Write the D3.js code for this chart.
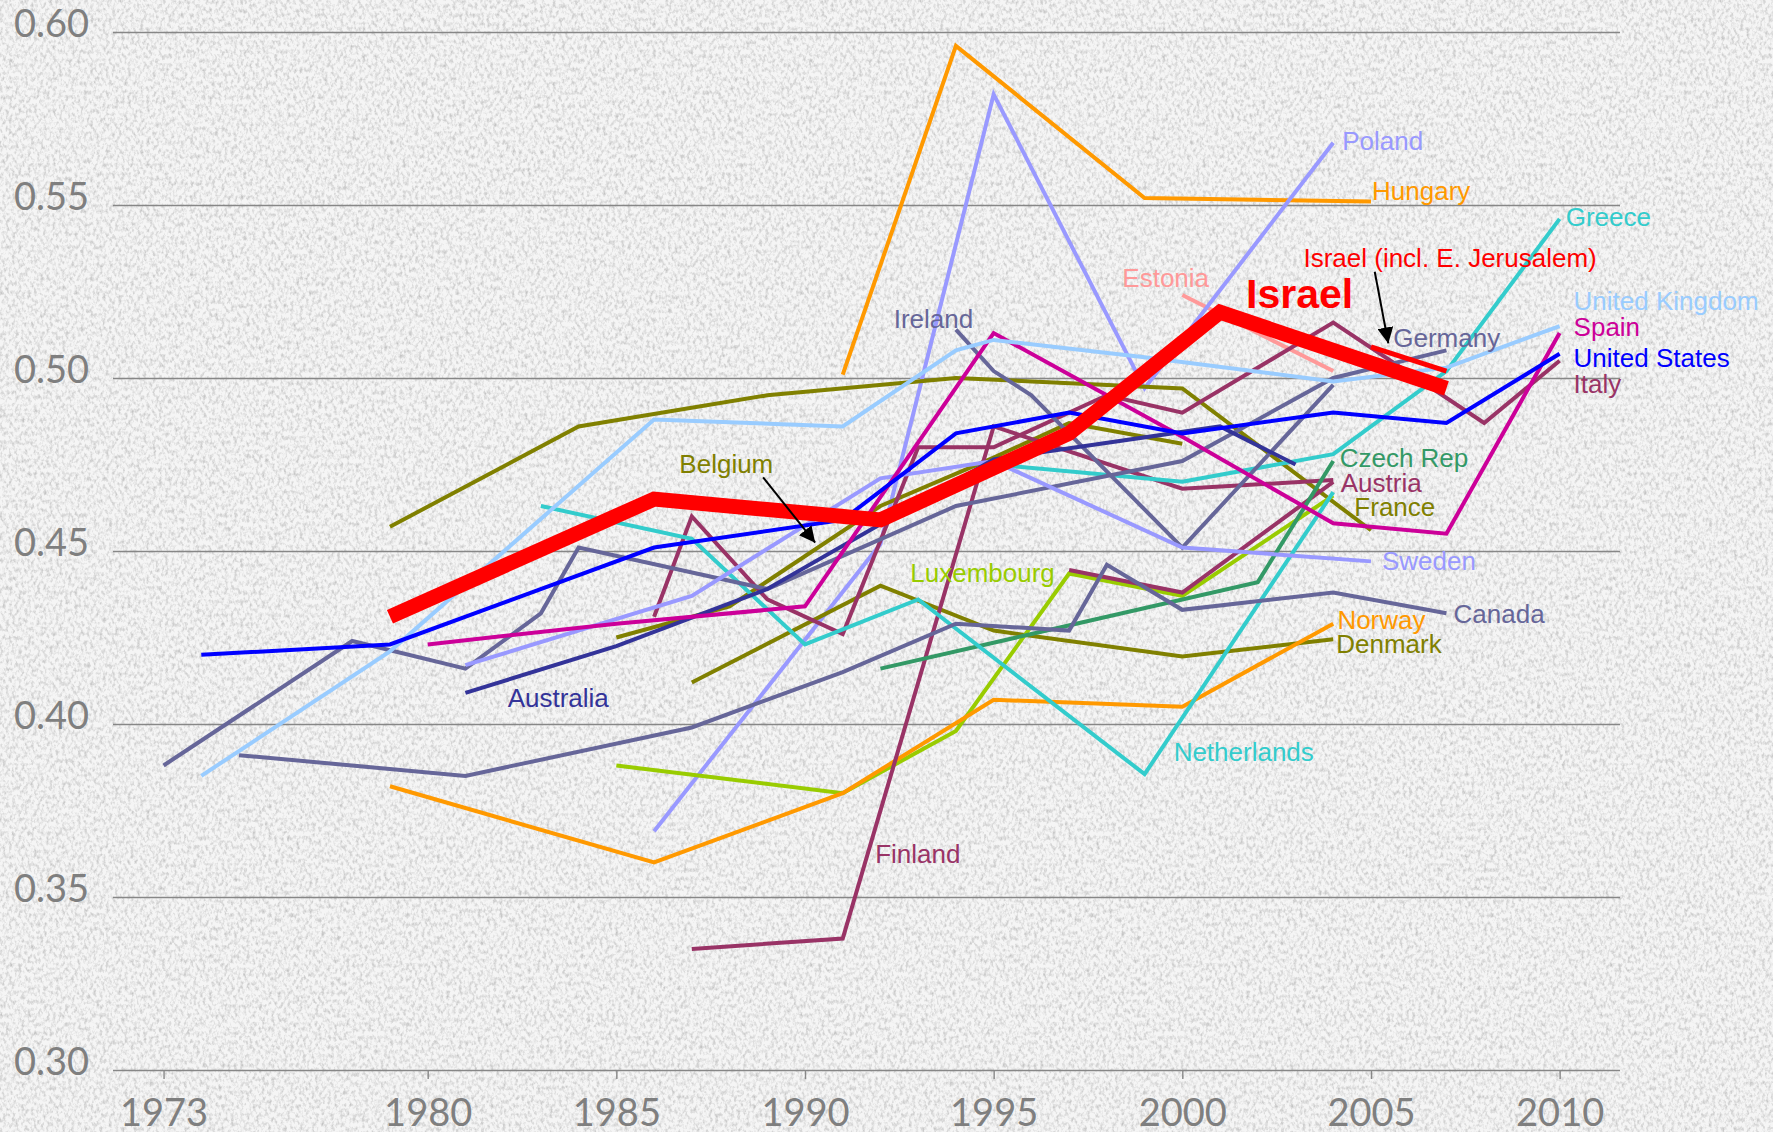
<!doctype html>
<html>
<head>
<meta charset="utf-8">
<script src="https://cdnjs.cloudflare.com/ajax/libs/d3/7.8.5/d3.min.js"></script>
<style>
    body { margin: 0; background: #efefef; }
    .lbl { font-family: "Liberation Sans", Arial, sans-serif; font-size: 26px; }
</style>
</head>
<body>
<svg id="svg" width="1773" height="1132"></svg>
<script>
// Gini coefficients, [year, value]
var israel        = [[1979,0.431],[1986,0.465],[1992,0.459],[1997,0.484],[2001,0.519],[2007,0.497]];
var israelJer     = [[2005,0.509],[2007,0.502]];
var unitedStates  = [[1974,0.420],[1979,0.423],[1986,0.451],[1991,0.459],[1994,0.484],[1997,0.490],[2000,0.484],[2004,0.490],[2007,0.487],[2010,0.507]];
var unitedKingdom = [[1974,0.385],[1979,0.421],[1986,0.488],[1991,0.486],[1994,0.508],[1995,0.511],[1999,0.506],[2004,0.499],[2007,0.503],[2010,0.515]];
var spain         = [[1980,0.423],[1985,0.429],[1990,0.434],[1995,0.513],[2000,0.483],[2004,0.458],[2007,0.455],[2010,0.513]];
var italy         = [[1986,0.431],[1987,0.460],[1989,0.436],[1991,0.426],[1993,0.480],[1995,0.480],[1998,0.495],[2000,0.490],[2004,0.516],[2008,0.487],[2010,0.505]];
var germany       = [[1973,0.388],[1978,0.424],[1981,0.416],[1983,0.432],[1984,0.451],[1989,0.439],[1994,0.463],[2000,0.476],[2004,0.500],[2007,0.508]];
var ireland       = [[1994,0.514],[1995,0.502],[1996,0.495],[2000,0.451],[2004,0.498]];
var canada        = [[1975,0.391],[1981,0.385],[1987,0.399],[1991,0.415],[1994,0.429],[1997,0.427],[1998,0.446],[2000,0.433],[2004,0.438],[2007,0.432]];
var australia     = [[1981,0.409],[1985,0.4225],[1989,0.439],[1995,0.4765],[2001,0.486],[2003,0.475]];
var greece        = [[1995,0.475],[2000,0.470],[2004,0.478],[2007,0.502],[2010,0.546]];
var netherlands   = [[1983,0.463],[1987,0.4535],[1990,0.423],[1993,0.436],[1999,0.3855],[2004,0.467]];
var hungary       = [[1991,0.501],[1994,0.596],[1999,0.552],[2005,0.551]];
var norway        = [[1979,0.382],[1986,0.360],[1991,0.380],[1995,0.407],[2000,0.405],[2004,0.429]];
var poland        = [[1986,0.369],[1992,0.452],[1995,0.582],[1999,0.497],[2004,0.568]];
var sweden        = [[1981,0.417],[1987,0.437],[1992,0.471],[1995,0.476],[2000,0.451],[2005,0.447]];
var estonia       = [[2000,0.524],[2004,0.502]];
var czechRep      = [[1992,0.416],[1996,0.426],[2002,0.441],[2004,0.476]];
var austria       = [[1997,0.4445],[2000,0.438],[2004,0.470]];
var finland       = [[1987,0.335],[1991,0.338],[1995,0.486],[2000,0.468],[2004,0.4705]];
var france        = [[1979,0.457],[1984,0.486],[1989,0.495],[1994,0.500],[2000,0.497],[2005,0.456]];
var belgium       = [[1985,0.425],[1988,0.434],[1992,0.463],[1995,0.477],[1997,0.487],[2000,0.481]];
var denmark       = [[1987,0.412],[1992,0.440],[1995,0.427],[2000,0.4195],[2004,0.4245]];
var luxembourg    = [[1985,0.388],[1991,0.380],[1994,0.398],[1997,0.4435],[2000,0.437],[2004,0.466]];

var yTicks = [0.30, 0.35, 0.40, 0.45, 0.50, 0.55, 0.60];
var xTicks = [1973, 1980, 1985, 1990, 1995, 2000, 2005, 2010];

// label anchors in data units: [text, year, value]
var labels = [
    ["Poland", 2004.24, 0.5659], ["Hungary", 2005.03, 0.5514], ["Greece", 2010.16, 0.5438],
    ["Israel (incl. E. Jerusalem)", 2003.21, 0.5322], ["Estonia", 1998.41, 0.5263],
    ["United Kingdom", 2010.37, 0.5197], ["Spain", 2010.37, 0.5121], ["Germany", 2005.59, 0.5091],
    ["United States", 2010.37, 0.5033], ["Italy", 2010.37, 0.4956], ["Ireland", 1992.35, 0.5144],
    ["Belgium", 1986.67, 0.4725], ["Czech Rep", 2004.17, 0.4744], ["Austria", 2004.20, 0.4671],
    ["France", 2004.56, 0.4601], ["Sweden", 2005.29, 0.4445], ["Luxembourg", 1992.79, 0.4411],
    ["Canada", 2007.19, 0.4291], ["Norway", 2004.11, 0.4274], ["Denmark", 2004.08, 0.4204],
    ["Australia", 1982.12, 0.4050], ["Netherlands", 1999.77, 0.3894], ["Finland", 1991.86, 0.3597]
];

var colors = {
    "Israel": "#ff0000", "Israel (incl. E. Jerusalem)": "#ff0000", "United States": "#0000ff",
    "United Kingdom": "#99ccff", "Spain": "#cc0099", "Italy": "#993366", "Germany": "#666699",
    "Ireland": "#666699", "Canada": "#666699", "Australia": "#333399", "Greece": "#33cccc",
    "Netherlands": "#33cccc", "Hungary": "#ff9900", "Norway": "#ff9900", "Poland": "#9999ff",
    "Sweden": "#9999ff", "Estonia": "#ff9999", "Czech Rep": "#339966", "Austria": "#993366",
    "Finland": "#993366", "France": "#808000", "Belgium": "#808000", "Denmark": "#808000",
    "Luxembourg": "#99cc00"
};

var series = [
    ["Estonia", estonia], ["Hungary", hungary], ["Poland", poland], ["France", france],
    ["Denmark", denmark], ["Belgium", belgium], ["Luxembourg", luxembourg], ["Norway", norway],
    ["Finland", finland], ["Austria", austria], ["Italy", italy], ["Czech Rep", czechRep],
    ["Netherlands", netherlands], ["Greece", greece], ["Canada", canada], ["Germany", germany],
    ["Ireland", ireland], ["Sweden", sweden], ["Australia", australia], ["Spain", spain],
    ["United Kingdom", unitedKingdom], ["United States", unitedStates],
    ["Israel (incl. E. Jerusalem)", israelJer], ["Israel", israel]
];

var svg = d3.select("#svg"),
    plotLeft = 113, plotRight = 1620, plotTop = 32, plotBottom = 1070;

var x = d3.scaleLinear().domain([1971.66, 2011.6]).range([plotLeft, plotRight]),
    y = d3.scaleLinear().domain([0.30, 0.60]).range([plotBottom, plotTop]);

// paper background
var defs = svg.append("defs");
var f = defs.append("filter").attr("id", "paper")
    .attr("x", 0).attr("y", 0).attr("width", "100%").attr("height", "100%");
f.append("feTurbulence").attr("type", "fractalNoise").attr("baseFrequency", "0.32 0.22")
    .attr("numOctaves", 3).attr("seed", 7);
f.append("feColorMatrix").attr("type", "matrix")
    .attr("values", "0 0 0 0 0.55  0 0 0 0 0.55  0 0 0 0 0.55  2.2 0 0 0 -0.95");

defs.append("marker").attr("id", "arrow")
    .attr("viewBox", "0 0 10 10").attr("refX", 10).attr("refY", 5)
    .attr("markerWidth", 8).attr("markerHeight", 8).attr("markerUnits", "strokeWidth")
    .attr("orient", "auto")
    .append("path").attr("d", "M0,0 L10,5 L0,10 z").attr("fill", "#000");

svg.append("rect").attr("width", 1773).attr("height", 1132).attr("fill", "#f5f5f5");
svg.append("rect").attr("width", 1773).attr("height", 1132).attr("filter", "url(#paper)");

// grid + y labels
var yAxis = svg.append("g")
    .attr("transform", "translate(" + plotLeft + ",0)")
    .call(d3.axisLeft(y).tickValues(yTicks).tickFormat(d3.format(".2f"))
        .tickSize(-(plotRight - plotLeft)).tickPadding(24));
yAxis.select(".domain").remove();
yAxis.selectAll("line").attr("stroke", "#878787").attr("stroke-width", 1.4);
yAxis.selectAll("text").attr("font-family", "Lato, sans-serif").attr("font-size", 38)
    .attr("fill", "#7f7f7f").attr("dy", "0.12em");

// x axis ticks + labels
var xAxis = svg.append("g")
    .attr("transform", "translate(0," + plotBottom + ")")
    .call(d3.axisBottom(x).tickValues(xTicks).tickFormat(d3.format("d"))
        .tickSize(9).tickPadding(20));
xAxis.select(".domain").remove();
xAxis.selectAll("line").attr("stroke", "#878787").attr("stroke-width", 1.4);
xAxis.selectAll("text").attr("font-family", "Lato, sans-serif").attr("font-size", 38)
    .attr("fill", "#7f7f7f");

var line = d3.line().x(function(d) { return x(d[0]); }).y(function(d) { return y(d[1]); });

svg.append("g").selectAll("path")
    .data(series)
    .enter().append("path")
    .attr("d", function(d) { return line(d[1]); })
    .attr("fill", "none")
    .attr("stroke", function(d) { return colors[d[0]]; })
    .attr("stroke-width", function(d) {
        return d[0] == "Israel" ? 15 : (d[0] == "Israel (incl. E. Jerusalem)" ? 5 : 4);
    })
    .attr("stroke-linejoin", "miter");

// labels
svg.append("g").selectAll("text")
    .data(labels)
    .enter().append("text")
    .attr("class", "lbl")
    .attr("x", function(d) { return x(d[1]); })
    .attr("y", function(d) { return y(d[2]); })
    .attr("fill", function(d) { return colors[d[0]]; })
    .text(function(d) { return d[0]; });

svg.append("text")
    .attr("x", x(2001.69)).attr("y", y(0.5202))
    .attr("font-family", "Liberation Sans, Arial, sans-serif")
    .attr("font-weight", "bold").attr("font-size", 41)
    .attr("fill", "#ff0000")
    .text("Israel");

// arrows
var arrows = [[1988.89, 0.4713, 1990.27, 0.4524], [2005.10, 0.5307, 2005.46, 0.5100]];
svg.append("g").selectAll("line")
    .data(arrows)
    .enter().append("line")
    .attr("x1", function(d) { return x(d[0]); })
    .attr("y1", function(d) { return y(d[1]); })
    .attr("x2", function(d) { return x(d[2]); })
    .attr("y2", function(d) { return y(d[3]); })
    .attr("stroke", "#000").attr("stroke-width", 2)
    .attr("marker-end", "url(#arrow)");
</script>
</body>
</html>
